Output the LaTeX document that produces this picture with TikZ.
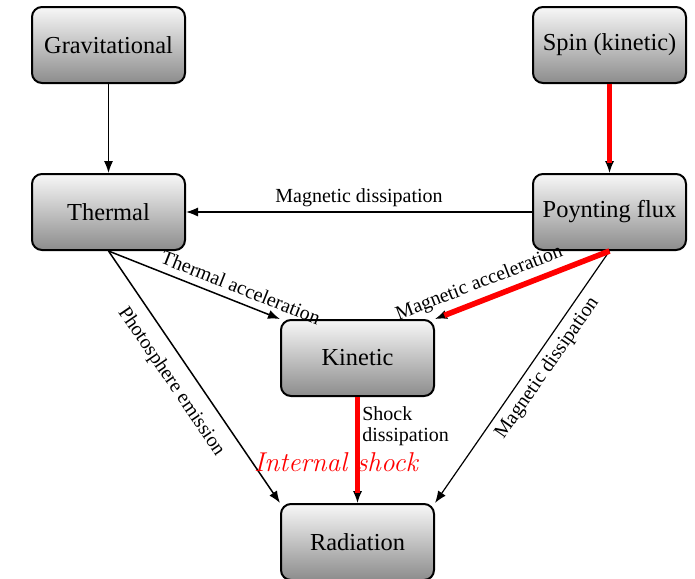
\documentclass[tikz,border=0pt]{standalone}
\usepackage{fontspec}
\newfontfamily\labelfont{Liberation Serif}
\usetikzlibrary{arrows.meta,positioning}

\begin{document}
\begin{tikzpicture}[x=0.5pt,y=-0.5pt,
  box/.style={draw,line width=1pt,rounded corners=5pt,top color=black!3,bottom color=black!45,minimum width=76.5pt,minimum height=38pt,inner sep=0pt,font=\labelfont\fontsize{12.2}{14}\selectfont},
  lbl/.style={font=\labelfont\fontsize{10}{11}\selectfont,inner sep=2pt},
  arr/.style={-{Latex[length=6pt,width=4.6pt]},line width=0.75pt},
  hot/.style={red,line width=2.8pt,shorten >=5pt}
]
\useasboundingbox (0,0) rectangle (695,578);
\node[box] (grav) at (108.5,45) {Gravitational};
\node[box,right=173pt of grav] (spin) {Spin (kinetic)};
\node[box,below=44.5pt of grav] (therm) {Thermal};
\node[box,below=44.5pt of spin] (poynt) {Poynting flux};
\node[box] (kin) at (357.5,358) {Kinetic};
\node[box,below=53pt of kin] (rad) {Radiation};
\draw[arr] (grav) -- (therm);
\draw[arr] (spin) -- (poynt);
\draw[arr] (poynt) -- node[lbl,above] {Magnetic dissipation} (therm);
\draw[arr] (therm.south) -- node[lbl,above,sloped,pos=0.74,inner sep=3.5pt] {Thermal acceleration} (kin.north west);
\draw[arr] (therm.south) -- node[lbl,below,sloped,pos=0.47,inner sep=6pt] {Photosphere emission} (rad.north west);
\draw[arr] (poynt.south) -- node[lbl,above,sloped,pos=0.71,inner sep=3.5pt] {Magnetic acceleration} (kin.north east);
\draw[arr,line width=0.6pt] (poynt.south) -- node[lbl,below,sloped,pos=0.43,inner sep=3pt] {Magnetic dissipation} (rad.north east);
\draw[arr] (kin) -- node[lbl,right,pos=0.28,align=left,font=\labelfont\fontsize{10}{10.5}\selectfont] {Shock\\dissipation} (rad);
% red paths on top
\draw[hot] (spin) -- (poynt);
\draw[hot] (poynt.south) -- (kin.north east);
\draw[hot] (kin) -- (rad);
\node[red,font=\itshape\fontsize{13.6}{15}\selectfont] (ishock) at (336,462) {Internal shock};
\end{tikzpicture}
\end{document}
